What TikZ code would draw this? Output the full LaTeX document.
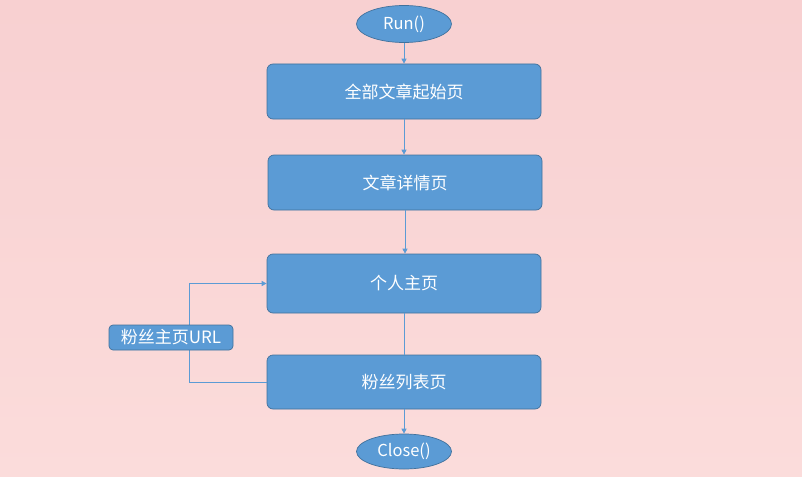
\documentclass[tikz,border=0pt]{standalone}
\usepackage{fontspec}
\setmainfont{Noto Sans CJK SC}
\usetikzlibrary{shapes.geometric,arrows.meta}
\definecolor{boxfill}{HTML}{5B9BD5}
\definecolor{boxline}{HTML}{41719C}
\definecolor{bgtop}{HTML}{F8D0D1}
\definecolor{bgbot}{HTML}{FBDCDB}
\tikzset{
  stepbox/.style={draw=boxline, fill=boxfill, rounded corners=6pt, line width=0.7pt,
    minimum width=274pt, minimum height=55pt, text=white, font=\fontsize{17}{20}\selectfont, inner sep=0pt},
  term/.style={draw=boxline, fill=boxfill, ellipse, line width=0.7pt,
    minimum width=95pt, minimum height=37pt, text=white, font=\fontsize{16.5}{20}\selectfont, inner sep=0pt},
  tag/.style={draw=boxline, fill=boxfill, rounded corners=4pt, line width=0.7pt,
    minimum width=124pt, minimum height=25pt, text=white, font=\fontsize{17}{20}\selectfont, inner sep=0pt},
  conn/.style={draw=boxfill, line width=0.8pt, -{Triangle[width=5pt,length=5pt]}},
  plain/.style={draw=boxfill, line width=0.8pt}
}
\begin{document}
\begin{tikzpicture}[x=1pt,y=-1pt]
\shade[top color=bgtop, bottom color=bgbot] (0,0) rectangle (802,476);
\useasboundingbox (0,0) rectangle (802,476);
\node[term] (run) at (404,24) {Run()};
\node[stepbox] (b1) at (404,91.5) {全部文章起始页};
\node[stepbox] (b2) at (405,182.5) {文章详情页};
\node[stepbox, minimum height=59pt] (b3) at (404,283.5) {个人主页};
\node[stepbox, minimum height=54pt] (b4) at (404,382) {粉丝列表页};
\node[term, minimum height=35pt] (close) at (404,451.5) {Close()};
\coordinate (lb) at (189,382);
\coordinate (lt) at (189,283.5);
\draw[conn] (run) -- (b1);
\draw[conn] (b1.south) -- (b2.north -| b1.south);
\draw[conn] (b2.south) -- (b3.north -| b2.south);
\draw[plain] (b3) -- (b4);
\draw[conn] (b4) -- (close);
\draw[conn] (b4.west) -- (lb) -- (lt) -- (b3.west);
\node[tag] (url) at (171,337.5) {粉丝主页URL};
\end{tikzpicture}
\end{document}
